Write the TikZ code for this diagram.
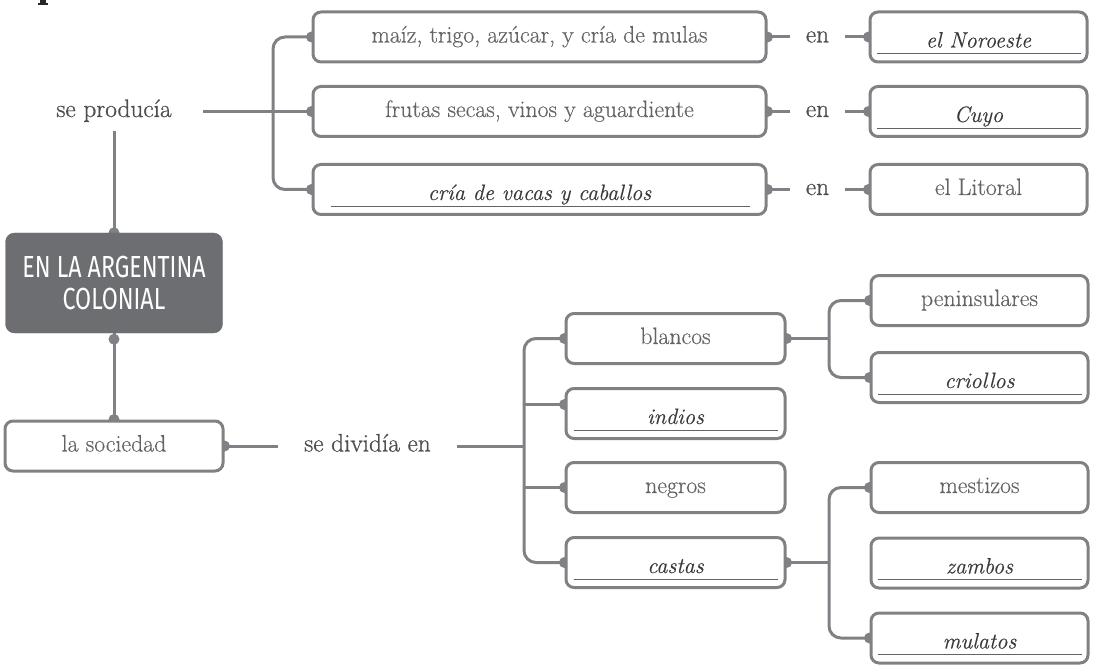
\documentclass[tikz,border=0pt]{standalone}
\usepackage{fontspec}
\newfontfamily\condfont[FakeStretch=0.76]{Fira Sans}
\newfontfamily\boxrm[FakeBold=0.4, ItalicFeatures={FakeBold=0.3}]{Latin Modern Roman}
\newfontfamily\lblrm[FakeBold=0.8]{Latin Modern Roman}
\usetikzlibrary{calc,backgrounds}
\definecolor{lg}{HTML}{808184}
\definecolor{tg}{HTML}{636467}
\definecolor{itc}{HTML}{3A3A3D}
\definecolor{lab}{HTML}{4E4F51}
\definecolor{dk}{HTML}{6D6E71}
\begin{document}
\begin{tikzpicture}[x=1pt,y=-1pt,
  box/.style={font=\boxrm\fontsize{23.8}{28}\selectfont, draw=lg, line width=3pt, rounded corners=8pt, fill=white,
    minimum height=50pt, inner sep=0pt, text=tg, text height=15pt, text depth=4pt},
  ibox/.style={box, text=itc, font=\boxrm\fontsize{22.3}{26}\selectfont\itshape, text height=25pt, text depth=4pt},
  darkbox/.style={fill=dk, draw=dk, rounded corners=9pt, minimum width=217pt, minimum height=100pt,
    text=white, align=center, inner sep=0pt, font=\condfont\fontsize{30.5}{32}\selectfont},
  lbl/.style={font=\lblrm\fontsize{25.3}{30}\selectfont, text=lab, inner xsep=0pt, inner ysep=10pt, text height=15pt, text depth=4pt},
  conn/.style={draw=lg, line width=3pt},
  rc/.style={rounded corners=12pt},
  dot/.style={fill=lg},
  uline/.style={draw=tg, line width=0.9pt},
]
\useasboundingbox (0,0) rectangle (1094,668);
% cut-off glyph at top left
\fill[black!85] (40,0) rectangle (46,3);
\fill[black!85] (38,3) rectangle (48,5);

% ---------- coordinates for brackets
\coordinate (b1) at (273,111.5);
\coordinate (b2) at (524,446);
\coordinate (b3) at (829,338.5);
\coordinate (b4) at (829,562.5);

% ---------- label nodes
\node[lbl, minimum width=178pt] (sp) at (114,111.5) {se producía};
\node[lbl, minimum width=179pt] (sd) at (367.5,446) {se dividía en};
\node[lbl, minimum width=55pt] (en1) at (817.5,37) {en};
\node[lbl, minimum width=55pt] (en2) at (817.5,111.5) {en};
\node[lbl, minimum width=55pt] (en3) at (817.5,189.5) {en};

% ---------- boxes
\node[darkbox] (dark) at (114,283) {EN LA ARGENTINA\\COLONIAL};
\node[box, minimum width=218pt] (soc) at (114,446) {la sociedad};

\node[box, minimum width=453pt] (A1) at (539.5,37) {maíz, trigo, azúcar, y cría de mulas};
\node[box, minimum width=453pt] (A2) at (539.5,111.5) {frutas secas, vinos y aguardiente};
\node[ibox, minimum width=453pt] (A3) at (539.5,189.5) {cría de vacas y caballos};
\node[ibox, minimum width=217pt] (R1) at (978.5,37) {el Noroeste};
\node[ibox, minimum width=217pt] (R2) at (978.5,111.5) {Cuyo};
\node[box, minimum width=217pt] (R3) at (978.5,189.5) {el Litoral};

\node[box, minimum width=219pt] (bl) at (675.5,338.5) {blancos};
\node[ibox, minimum width=219pt] (in) at (675.5,413.5) {indios};
\node[box, minimum width=219pt] (ne) at (675.5,487.5) {negros};
\node[ibox, minimum width=219pt] (ca) at (675.5,562.5) {castas};

\node[box, minimum width=217pt] (pe) at (979.5,300.5) {peninsulares};
\node[ibox, minimum width=217pt] (cr) at (979.5,377.5) {criollos};
\node[box, minimum width=217pt] (me) at (979.5,487.5) {mestizos};
\node[ibox, minimum width=217pt] (za) at (979.5,563) {zambos};
\node[ibox, minimum width=217pt] (mu) at (979.5,638) {mulatos};

\coordinate (ij) at ([yshift=9pt]in.west);

% ---------- underlines
\foreach \n in {R1,R2,cr,za,mu}{
  \draw[uline] ([xshift=8pt,yshift=10pt]\n.south west) -- ([xshift=-8pt,yshift=10pt]\n.south east);
}
\foreach \n in {in,ca}{
  \draw[uline] ([xshift=9pt,yshift=10pt]\n.south west) -- ([xshift=-9pt,yshift=10pt]\n.south east);
}
\draw[uline] ([xshift=19pt,yshift=10pt]A3.south west) -- ([xshift=-18pt,yshift=10pt]A3.south east);

% ---------- connectors and dots (behind boxes)
\begin{scope}[on background layer]
  \draw[conn] (sp.east) -- (b1);
  \draw[conn, rc] (A1.west) -| (b1) |- (A3.west);
  \draw[conn] (b1) -- (A2.west);
  \draw[conn] (A1.east) -- (en1.west);
  \draw[conn] (en1.east) -- (R1.west);
  \draw[conn] (A2.east) -- (en2.west);
  \draw[conn] (en2.east) -- (R2.west);
  \draw[conn] (A3.east) -- (en3.west);
  \draw[conn] (en3.east) -- (R3.west);
  \draw[conn] (sp.south) -- (dark.north);
  \draw[conn] (dark.south) -- (soc.north);
  \draw[conn] (soc.east) -- (sd.west);
  \draw[conn] (sd.east) -- (b2);
  \draw[conn, rc] (bl.west) -| (b2) |- (ca.west);
  \draw[conn] (ij) -- (b2 |- ij);
  \draw[conn] (ne.west) -- (b2 |- ne.west);
  \draw[conn] (bl.east) -- (b3);
  \draw[conn, rc] (pe.west) -| (b3) |- (cr.west);
  \draw[conn] (ca.east) -- (b4);
  \draw[conn, rc] (me.west) -| (b4) |- (mu.west);
  \foreach \p in {A1.west,A2.west,A3.west,A1.east,A2.east,A3.east,R1.west,R2.west,R3.west,
    dark.north,soc.north,soc.east,bl.west,ij,ne.west,ca.west,bl.east,ca.east,pe.west,cr.west,me.west,mu.west}{
    \fill[dot] (\p) circle (5.5pt);
  }
\end{scope}
\fill[dot] ([yshift=-6pt]dark.south) circle (5.5pt);
\end{tikzpicture}
\end{document}
